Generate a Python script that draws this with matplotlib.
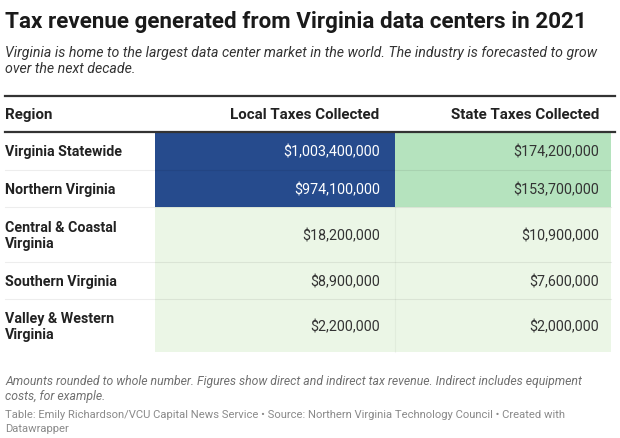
import matplotlib.pyplot as plt
from matplotlib.patches import Rectangle

# Données du tableau
regions = ["Virginia Statewide", "Northern Virginia", "Central & Coastal\nVirginia",
           "Southern Virginia", "Valley & Western\nVirginia"]
local_taxes = [1003400000, 974100000, 18200000, 8900000, 2200000]
state_taxes = [174200000, 153700000, 10900000, 7600000, 2000000]
colonnes = ["Region", "Local Taxes Collected", "State Taxes Collected"]

titre = "Tax revenue generated from Virginia data centers in 2021"
sous_titre = ("Virginia is home to the largest data center market in the world. "
              "The industry is forecasted to grow\nover the next decade.")
note = ("Amounts rounded to whole number. Figures show direct and indirect tax revenue. "
        "Indirect includes equipment\ncosts, for example.")
source = ("Table: Emily Richardson/VCU Capital News Service \u2022 Source: Northern Virginia "
          "Technology Council \u2022 Created with\nDatawrapper")


def couleur(valeur):
    """Échelle de couleurs façon Datawrapper"""
    if valeur >= 500e6:
        return "#264b8d", "white"
    if valeur >= 100e6:
        return "#b5e3be", "#333333"
    return "#ebf6e6", "#333333"


W, H = 620, 439
plt.rcParams['font.family'] = ['Roboto', 'DejaVu Sans']

fig = plt.figure(figsize=(W / 100, H / 100), dpi=100)
ax = fig.add_axes([0, 0, 1, 1])
ax.set_xlim(0, W)
ax.set_ylim(H, 0)
ax.axis("off")

# Mise en page (pixels)
x_gauche, x_col1, x_col2, x_droite = 5, 155, 395, 611
haut_tableau, bas_entete = 97, 132.5
bords = [132.5, 171, 208, 263, 300, 353]

# Titres (va=top pour les textes sur plusieurs lignes)
ax.text(5, 28, titre, fontsize=16.1, fontweight="bold", color="#1a1a1a", va="baseline")
ax.text(5, 46, sous_titre, fontsize=10.2, style="italic", color="#333333",
        va="top", linespacing=1.2)

# En-tête
y_ent = (haut_tableau + bas_entete) / 2
kw_ent = dict(fontsize=10.9, fontweight="bold", color="#222222", va="center")
ax.text(x_gauche, y_ent, colonnes[0], **kw_ent)
ax.text(x_col2 - 16, y_ent, colonnes[1], ha="right", **kw_ent)
ax.text(x_droite - 12, y_ent, colonnes[2], ha="right", **kw_ent)

# Cellules
for i, (reg, loc, sta) in enumerate(zip(regions, local_taxes, state_taxes)):
    y0, y1 = bords[i], bords[i + 1]
    yc = (y0 + y1) / 2
    for (xa, xb, val) in [(x_col1, x_col2, loc), (x_col2, x_droite, sta)]:
        fond, txt = couleur(val)
        ax.add_patch(Rectangle((xa, y0), xb - xa, y1 - y0, facecolor=fond,
                               edgecolor="none", zorder=1))
        pad = 15 if xb == x_col2 else 12
        ax.text(xb - pad, yc + 0.5, f"${val:,.0f}", fontsize=10.3, color=txt,
                ha="right", va="center", zorder=3)
    ax.text(x_gauche, yc + 0.5, reg, fontsize=10.3, fontweight="bold", color="#222222",
            va="center", linespacing=1.1, zorder=3)
    if i < len(regions) - 1:
        ax.plot([x_gauche, x_droite], [y1, y1], color="black", alpha=0.07, lw=0.8, zorder=2)

# Séparateur vertical discret
ax.plot([x_col2, x_col2], [bords[2], bords[-1]], color="black", alpha=0.04, lw=0.8, zorder=2)

# Lignes épaisses
ax.plot([x_gauche, x_droite + 4], [haut_tableau, haut_tableau], color="#333333", lw=1.6, zorder=4)
ax.plot([x_gauche, x_droite + 4], [bas_entete, bas_entete], color="#333333", lw=1.6, zorder=4)

# Notes
ax.text(5, 375, note, fontsize=8.8, style="italic", color="#707070", va="top",
        linespacing=1.2)
ax.text(5, 410, source, fontsize=8.1, color="#8a8a8a", va="top", linespacing=1.5)

plt.savefig("out.png", dpi=100)
plt.close()
